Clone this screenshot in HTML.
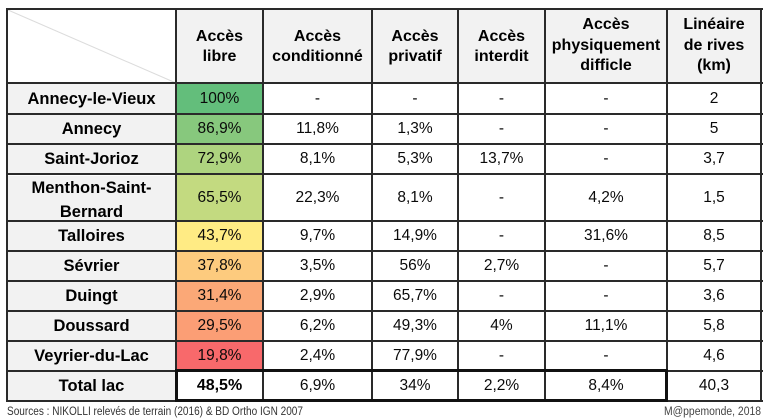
<!DOCTYPE html>
<html><head><meta charset="utf-8">
<style>
html,body{margin:0;padding:0;background:#fff;}
#c{position:relative;width:768px;height:420px;overflow:hidden;background:#fff;font-family:"Liberation Sans",Arial,sans-serif;}
.cell{position:absolute;display:flex;align-items:center;justify-content:center;text-align:center;box-sizing:border-box;color:#0a0a0a;font-size:15.5px;}
.h{background:#f2f2f2;font-weight:bold;font-size:16px;line-height:20.5px;color:#000;}
.l{background:#f2f2f2;font-weight:bold;font-size:16.5px;line-height:24px;color:#000;}
.hl{position:absolute;height:2px;background:#2a2a2a;}
.vl{position:absolute;width:2px;background:#2a2a2a;}
</style></head><body>
<div id="c">
<svg style="position:absolute;left:0;top:0" width="768" height="420">
<line x1="8" y1="10" x2="176" y2="83" stroke="#dcdcdc" stroke-width="1"/>
</svg>
<div class="cell h" style="left:176px;top:10px;width:87px;height:74px;">Accès<br>libre</div>
<div class="cell h" style="left:263px;top:10px;width:109px;height:74px;">Accès<br>conditionné</div>
<div class="cell h" style="left:372px;top:10px;width:86px;height:74px;">Accès<br>privatif</div>
<div class="cell h" style="left:458px;top:10px;width:87px;height:74px;">Accès<br>interdit</div>
<div class="cell h" style="left:545px;top:9px;width:122px;height:74px;">Accès<br>physiquement<br>difficle</div>
<div class="cell h" style="left:667px;top:9px;width:94px;height:74px;">Linéaire<br>de rives<br>(km)</div>

<div class="cell l" style="left:7px;top:83px;width:169px;height:31px;">Annecy-le-Vieux</div>
<div class="cell l" style="left:7px;top:114px;width:169px;height:30px;">Annecy</div>
<div class="cell l" style="left:7px;top:144px;width:169px;height:30px;">Saint-Jorioz</div>
<div class="cell l" style="left:7px;top:176px;width:169px;height:47px;">Menthon-Saint-<br>Bernard</div>
<div class="cell l" style="left:7px;top:221px;width:169px;height:30px;">Talloires</div>
<div class="cell l" style="left:7px;top:251px;width:169px;height:30px;">Sévrier</div>
<div class="cell l" style="left:7px;top:281px;width:169px;height:30px;">Duingt</div>
<div class="cell l" style="left:7px;top:311px;width:169px;height:30px;">Doussard</div>
<div class="cell l" style="left:7px;top:341px;width:169px;height:30px;">Veyrier-du-Lac</div>
<div class="cell l" style="left:7px;top:371px;width:169px;height:30px;">Total lac</div>

<div class="cell" style="left:176px;top:83px;width:87px;height:31px;background:#63be7b;">100%</div>
<div class="cell" style="left:176px;top:114px;width:87px;height:30px;background:#87c87d;">86,9%</div>
<div class="cell" style="left:176px;top:144px;width:87px;height:30px;background:#aed47f;">72,9%</div>
<div class="cell" style="left:176px;top:174px;width:87px;height:47px;background:#c3da80;">65,5%</div>
<div class="cell" style="left:176px;top:221px;width:87px;height:30px;background:#ffeb84;">43,7%</div>
<div class="cell" style="left:176px;top:251px;width:87px;height:30px;background:#fdcb7e;">37,8%</div>
<div class="cell" style="left:176px;top:281px;width:87px;height:30px;background:#fba877;">31,4%</div>
<div class="cell" style="left:176px;top:311px;width:87px;height:30px;background:#fb9e75;">29,5%</div>
<div class="cell" style="left:176px;top:341px;width:87px;height:30px;background:#f8696b;">19,8%</div>
<div class="cell" style="left:176px;top:371px;width:87px;height:30px;font-weight:bold;color:#000;font-size:16px;">48,5%</div>

<div class="cell" style="left:263px;top:83px;width:109px;height:31px;">-</div>
<div class="cell" style="left:263px;top:114px;width:109px;height:30px;">11,8%</div>
<div class="cell" style="left:263px;top:144px;width:109px;height:30px;">8,1%</div>
<div class="cell" style="left:263px;top:174px;width:109px;height:47px;">22,3%</div>
<div class="cell" style="left:263px;top:221px;width:109px;height:30px;">9,7%</div>
<div class="cell" style="left:263px;top:251px;width:109px;height:30px;">3,5%</div>
<div class="cell" style="left:263px;top:281px;width:109px;height:30px;">2,9%</div>
<div class="cell" style="left:263px;top:311px;width:109px;height:30px;">6,2%</div>
<div class="cell" style="left:263px;top:341px;width:109px;height:30px;">2,4%</div>
<div class="cell" style="left:263px;top:371px;width:109px;height:30px;">6,9%</div>

<div class="cell" style="left:372px;top:83px;width:86px;height:31px;">-</div>
<div class="cell" style="left:372px;top:114px;width:86px;height:30px;">1,3%</div>
<div class="cell" style="left:372px;top:144px;width:86px;height:30px;">5,3%</div>
<div class="cell" style="left:372px;top:174px;width:86px;height:47px;">8,1%</div>
<div class="cell" style="left:372px;top:221px;width:86px;height:30px;">14,9%</div>
<div class="cell" style="left:372px;top:251px;width:86px;height:30px;">56%</div>
<div class="cell" style="left:372px;top:281px;width:86px;height:30px;">65,7%</div>
<div class="cell" style="left:372px;top:311px;width:86px;height:30px;">49,3%</div>
<div class="cell" style="left:372px;top:341px;width:86px;height:30px;">77,9%</div>
<div class="cell" style="left:372px;top:371px;width:86px;height:30px;">34%</div>

<div class="cell" style="left:458px;top:83px;width:87px;height:31px;">-</div>
<div class="cell" style="left:458px;top:114px;width:87px;height:30px;">-</div>
<div class="cell" style="left:458px;top:144px;width:87px;height:30px;">13,7%</div>
<div class="cell" style="left:458px;top:174px;width:87px;height:47px;">-</div>
<div class="cell" style="left:458px;top:221px;width:87px;height:30px;">-</div>
<div class="cell" style="left:458px;top:251px;width:87px;height:30px;">2,7%</div>
<div class="cell" style="left:458px;top:281px;width:87px;height:30px;">-</div>
<div class="cell" style="left:458px;top:311px;width:87px;height:30px;">4%</div>
<div class="cell" style="left:458px;top:341px;width:87px;height:30px;">-</div>
<div class="cell" style="left:458px;top:371px;width:87px;height:30px;">2,2%</div>

<div class="cell" style="left:545px;top:83px;width:122px;height:31px;">-</div>
<div class="cell" style="left:545px;top:114px;width:122px;height:30px;">-</div>
<div class="cell" style="left:545px;top:144px;width:122px;height:30px;">-</div>
<div class="cell" style="left:545px;top:174px;width:122px;height:47px;">4,2%</div>
<div class="cell" style="left:545px;top:221px;width:122px;height:30px;">31,6%</div>
<div class="cell" style="left:545px;top:251px;width:122px;height:30px;">-</div>
<div class="cell" style="left:545px;top:281px;width:122px;height:30px;">-</div>
<div class="cell" style="left:545px;top:311px;width:122px;height:30px;">11,1%</div>
<div class="cell" style="left:545px;top:341px;width:122px;height:30px;">-</div>
<div class="cell" style="left:545px;top:371px;width:122px;height:30px;">8,4%</div>

<div class="cell" style="left:667px;top:83px;width:94px;height:31px;">2</div>
<div class="cell" style="left:667px;top:114px;width:94px;height:30px;">5</div>
<div class="cell" style="left:667px;top:144px;width:94px;height:30px;">3,7</div>
<div class="cell" style="left:667px;top:174px;width:94px;height:47px;">1,5</div>
<div class="cell" style="left:667px;top:221px;width:94px;height:30px;">8,5</div>
<div class="cell" style="left:667px;top:251px;width:94px;height:30px;">5,7</div>
<div class="cell" style="left:667px;top:281px;width:94px;height:30px;">3,6</div>
<div class="cell" style="left:667px;top:311px;width:94px;height:30px;">5,8</div>
<div class="cell" style="left:667px;top:341px;width:94px;height:30px;">4,6</div>
<div class="cell" style="left:667px;top:371px;width:94px;height:30px;">40,3</div>

<div class="hl" style="left:6px;top:8px;width:757px;"></div>
<div class="hl" style="left:6px;top:82px;width:757px;"></div>
<div class="hl" style="left:6px;top:113px;width:757px;"></div>
<div class="hl" style="left:6px;top:143px;width:757px;"></div>
<div class="hl" style="left:6px;top:173px;width:757px;"></div>
<div class="hl" style="left:6px;top:220px;width:757px;"></div>
<div class="hl" style="left:6px;top:250px;width:757px;"></div>
<div class="hl" style="left:6px;top:280px;width:757px;"></div>
<div class="hl" style="left:6px;top:310px;width:757px;"></div>
<div class="hl" style="left:6px;top:340px;width:757px;"></div>
<div class="hl" style="left:6px;top:370px;width:757px;"></div>
<div class="hl" style="left:6px;top:400px;width:757px;"></div>
<div class="vl" style="left:6px;top:8px;height:394px;"></div>
<div class="vl" style="left:175px;top:8px;height:394px;"></div>
<div class="vl" style="left:262px;top:8px;height:394px;"></div>
<div class="vl" style="left:371px;top:8px;height:394px;"></div>
<div class="vl" style="left:457px;top:8px;height:394px;"></div>
<div class="vl" style="left:544px;top:8px;height:394px;"></div>
<div class="vl" style="left:666px;top:8px;height:394px;"></div>
<div class="vl" style="left:760px;top:8px;height:394px;"></div>
<div style="position:absolute;left:175px;top:369px;width:493px;height:33px;box-sizing:border-box;border:3px solid #111;"></div>

<svg style="position:absolute;left:0;top:0" width="768" height="420">
<text x="7" y="415" font-family="Liberation Sans, Arial, sans-serif" font-size="11.5" fill="#333" textLength="296" lengthAdjust="spacingAndGlyphs">Sources : NIKOLLI relevés de terrain (2016) &amp; BD Ortho IGN 2007</text>
<text x="664" y="415" font-family="Liberation Sans, Arial, sans-serif" font-size="11.5" fill="#444" textLength="97" lengthAdjust="spacingAndGlyphs">M@ppemonde, 2018</text>
</svg>
</div>
</body></html>
